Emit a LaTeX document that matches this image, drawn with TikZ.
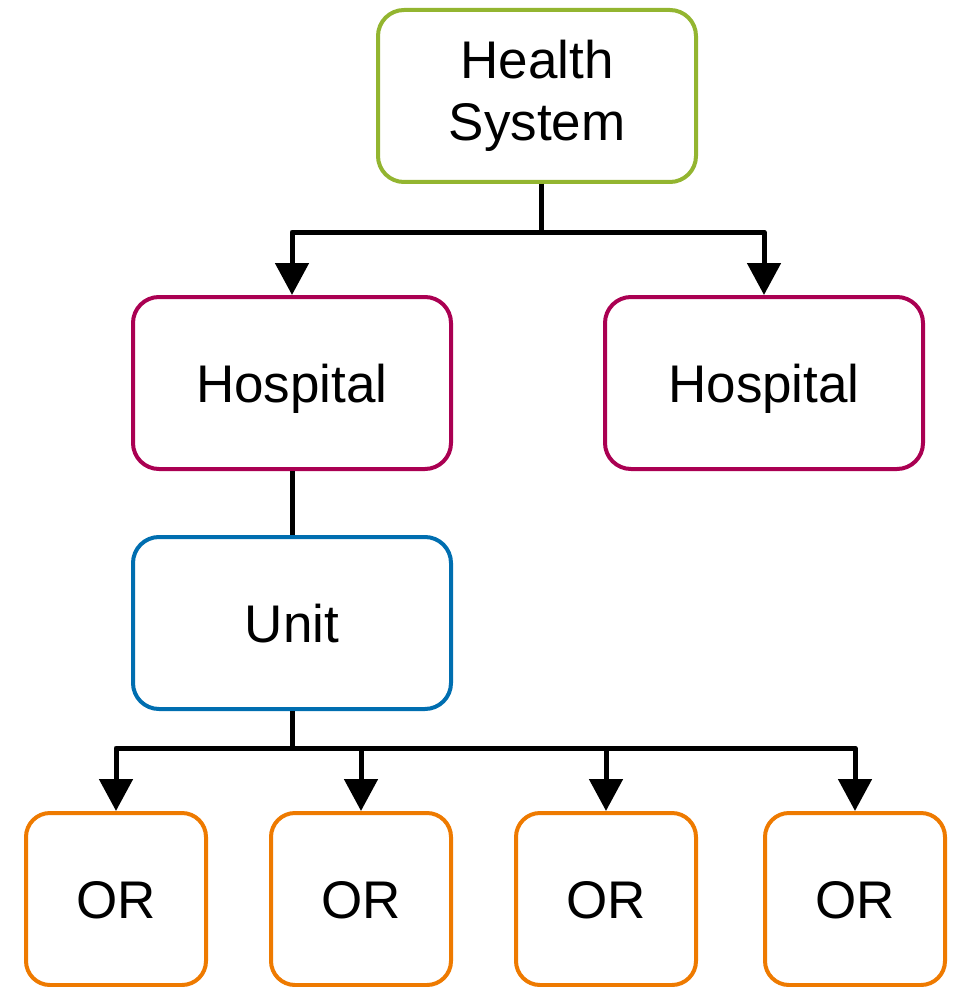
\documentclass[tikz,border=0pt]{standalone}
\usepackage{fontspec}
\setmainfont{Liberation Sans}
\usetikzlibrary{arrows.meta}
\definecolor{sysgreen}{RGB}{147,181,48}
\definecolor{hospred}{RGB}{170,0,82}
\definecolor{unitblue}{RGB}{0,110,176}
\definecolor{ororange}{RGB}{238,122,0}
\tikzset{
  box/.style={draw, line width=4pt, rounded corners=26pt, fill=white,
    align=center, inner sep=0pt, font=\fontsize{53}{62}\selectfont},
  single/.style={text height=38pt, text depth=0pt},
  wide/.style={box, minimum width=318pt, minimum height=172pt},
  narrow/.style={box, single, minimum width=180pt, minimum height=172pt, rounded corners=24pt},
  link/.style={line width=5pt, line join=round, black},
  arr/.style={link, -{Triangle[width=33pt,length=32pt]}}
}
\begin{document}
\begin{tikzpicture}[x=1pt,y=-1pt]
  \useasboundingbox (0,0) rectangle (956,987);
  % tree nodes
  \node[wide, draw=sysgreen] (hs) at (537,96) {Health\\System};
  \node[wide, single, draw=hospred] (hl) at (292,383) {Hospital};
  \node[wide, single, draw=hospred] (hr) at (764,383) {Hospital};
  \node[wide, single, draw=unitblue] (un) at (292,623) {Unit};
  \node[narrow, draw=ororange] (o1) at (116,899) {OR};
  \node[narrow, draw=ororange] (o2) at (361,899) {OR};
  \node[narrow, draw=ororange] (o3) at (606,899) {OR};
  \node[narrow, draw=ororange] (o4) at (855,899) {OR};
  % branch points
  \coordinate (b1) at (541,232);
  \coordinate (b2) at (292,748);
  % health system to hospitals
  \draw[link] (hs.south -| b1) -- (b1);
  \draw[arr] (b1) -| (hl.north);
  \draw[arr] (b1) -| (hr.north);
  % hospital to unit
  \draw[link] (hl.south) -- (un.north);
  % unit to operating rooms
  \draw[link] (un.south) -- (b2);
  \draw[arr] (b2) -| (o1.north);
  \draw[arr] (b2) -| (o2.north);
  \draw[arr] (b2) -| (o3.north);
  \draw[arr] (b2) -| (o4.north);
\end{tikzpicture}
\end{document}
